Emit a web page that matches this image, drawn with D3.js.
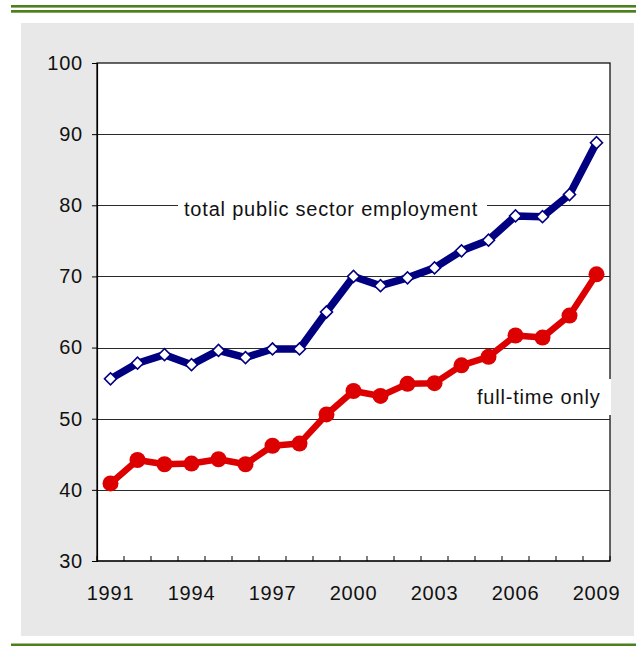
<!DOCTYPE html>
<html>
<head>
<meta charset="utf-8">
<script src="https://cdn.jsdelivr.net/npm/d3@7"></script>
<style>
  html, body { margin: 0; padding: 0; background: #fff; }
  svg { display: block; }
  text { font-family: "Liberation Sans", Arial, sans-serif; fill: #111; }
</style>
</head>
<body>
<svg id="chart" width="636" height="646"></svg>
<script>
// Employment index, 1991–2009
const years = ["1991","1992","1993","1994","1995","1996","1997","1998","1999","2000",
               "2001","2002","2003","2004","2005","2006","2007","2008","2009"];
const totalEmployment = [55.6, 57.8, 59.0, 57.6, 59.6, 58.6, 59.8, 59.8, 65.0, 70.0,
                         68.7, 69.8, 71.2, 73.6, 75.1, 78.5, 78.4, 81.5, 88.8];
const fullTimeOnly    = [40.9, 44.2, 43.6, 43.7, 44.3, 43.6, 46.2, 46.5, 50.6, 53.9,
                         53.2, 54.9, 55.0, 57.5, 58.7, 61.7, 61.4, 64.5, 70.3];
const yTicks = [30, 40, 50, 60, 70, 80, 90, 100];
const xLabels = ["1991","1994","1997","2000","2003","2006","2009"];

const svg = d3.select("#chart");
const W = 636;
const green = "#4E7F1F";
const fontSize = 20, spacing = 0.8;

// frame: green rules and grey panel
svg.append("rect").attr("x", 11).attr("y", 5).attr("width", W - 11).attr("height", 2.6).attr("fill", green);
svg.append("rect").attr("x", 11).attr("y", 10).attr("width", W - 11).attr("height", 2.7).attr("fill", green);
svg.append("rect").attr("x", 11).attr("y", 643.5).attr("width", W - 11).attr("height", 2.5).attr("fill", green);
svg.append("rect").attr("x", 21).attr("y", 23).attr("width", 613).attr("height", 613).attr("fill", "#E8E8E8");

const plot = { left: 97, right: 610, top: 63, bottom: 561 };

const x = d3.scaleBand().domain(years).range([plot.left, plot.right]);
const y = d3.scaleLinear().domain([30, 100]).range([plot.bottom, plot.top]);
const cx = d => x(d) + x.bandwidth() / 2;

// plot area
svg.append("rect")
  .attr("x", plot.left).attr("y", plot.top)
  .attr("width", plot.right - plot.left).attr("height", plot.bottom - plot.top)
  .attr("fill", "#fff").attr("stroke", "#000").attr("stroke-width", 1.2);

// horizontal gridlines
svg.append("g").selectAll("line")
  .data(yTicks.filter(v => v > 30 && v < 100))
  .join("line")
  .attr("x1", plot.left).attr("x2", plot.right)
  .attr("y1", d => Math.round(y(d)) + 0.5).attr("y2", d => Math.round(y(d)) + 0.5)
  .attr("stroke", "#2a2a2a").attr("stroke-width", 1);

// y axis
const yAxis = d3.axisLeft(y).tickValues(yTicks).tickSize(5).tickPadding(9).tickFormat(d3.format("d"));
const gy = svg.append("g").attr("transform", `translate(${plot.left},0)`).call(yAxis);
gy.select(".domain").attr("stroke", "#000").attr("stroke-width", 1.2);
gy.selectAll(".tick line").attr("stroke", "#000");
gy.selectAll(".tick text")
  .attr("font-size", fontSize).attr("letter-spacing", spacing)
  .attr("font-family", "Liberation Sans, Arial, sans-serif").attr("fill", "#111");

// x axis: ticks at category boundaries, pointing into the plot
const boundaries = d3.range(years.length + 1).map(i => plot.left + i * x.step());
svg.append("g").selectAll("line")
  .data(boundaries)
  .join("line")
  .attr("x1", d => d).attr("x2", d => d)
  .attr("y1", plot.bottom).attr("y2", plot.bottom - 5)
  .attr("stroke", "#000");
svg.append("line")
  .attr("x1", plot.left).attr("x2", plot.right)
  .attr("y1", plot.bottom).attr("y2", plot.bottom)
  .attr("stroke", "#000").attr("stroke-width", 1.2);
svg.append("g").selectAll("text")
  .data(xLabels)
  .join("text")
  .attr("x", d => cx(d)).attr("y", 600)
  .attr("text-anchor", "middle")
  .attr("font-size", fontSize).attr("letter-spacing", spacing)
  .text(d => d);

// series lines
const line = d3.line().x((d, i) => cx(years[i])).y(d => y(d));

svg.append("path").datum(fullTimeOnly)
  .attr("d", line).attr("fill", "none")
  .attr("stroke", "#DD0000").attr("stroke-width", 6.5).attr("stroke-linejoin", "round");
svg.append("g").selectAll("circle")
  .data(fullTimeOnly)
  .join("circle")
  .attr("cx", (d, i) => cx(years[i])).attr("cy", d => y(d))
  .attr("r", 8).attr("fill", "#DD0000");

svg.append("path").datum(totalEmployment)
  .attr("d", line).attr("fill", "none")
  .attr("stroke", "#000080").attr("stroke-width", 7.5).attr("stroke-linejoin", "round");
svg.append("g").selectAll("path")
  .data(totalEmployment)
  .join("path")
  .attr("transform", (d, i) => `translate(${cx(years[i])},${y(d)}) rotate(45)`)
  .attr("d", d3.symbol().type(d3.symbolSquare).size(72))
  .attr("fill", "#fff").attr("stroke", "#000080").attr("stroke-width", 1.6);

// series labels on white boxes
svg.append("rect").attr("x", 178).attr("y", 195).attr("width", 309).attr("height", 26).attr("fill", "#fff");
svg.append("text").attr("x", 184).attr("y", 216)
  .attr("font-size", fontSize).attr("letter-spacing", spacing)
  .text("total public sector employment");

svg.append("rect").attr("x", 468).attr("y", 379).attr("width", 143).attr("height", 36).attr("fill", "#fff");
svg.append("text").attr("x", 477).attr("y", 404)
  .attr("font-size", fontSize).attr("letter-spacing", spacing)
  .text("full-time only");
</script>
</body>
</html>
